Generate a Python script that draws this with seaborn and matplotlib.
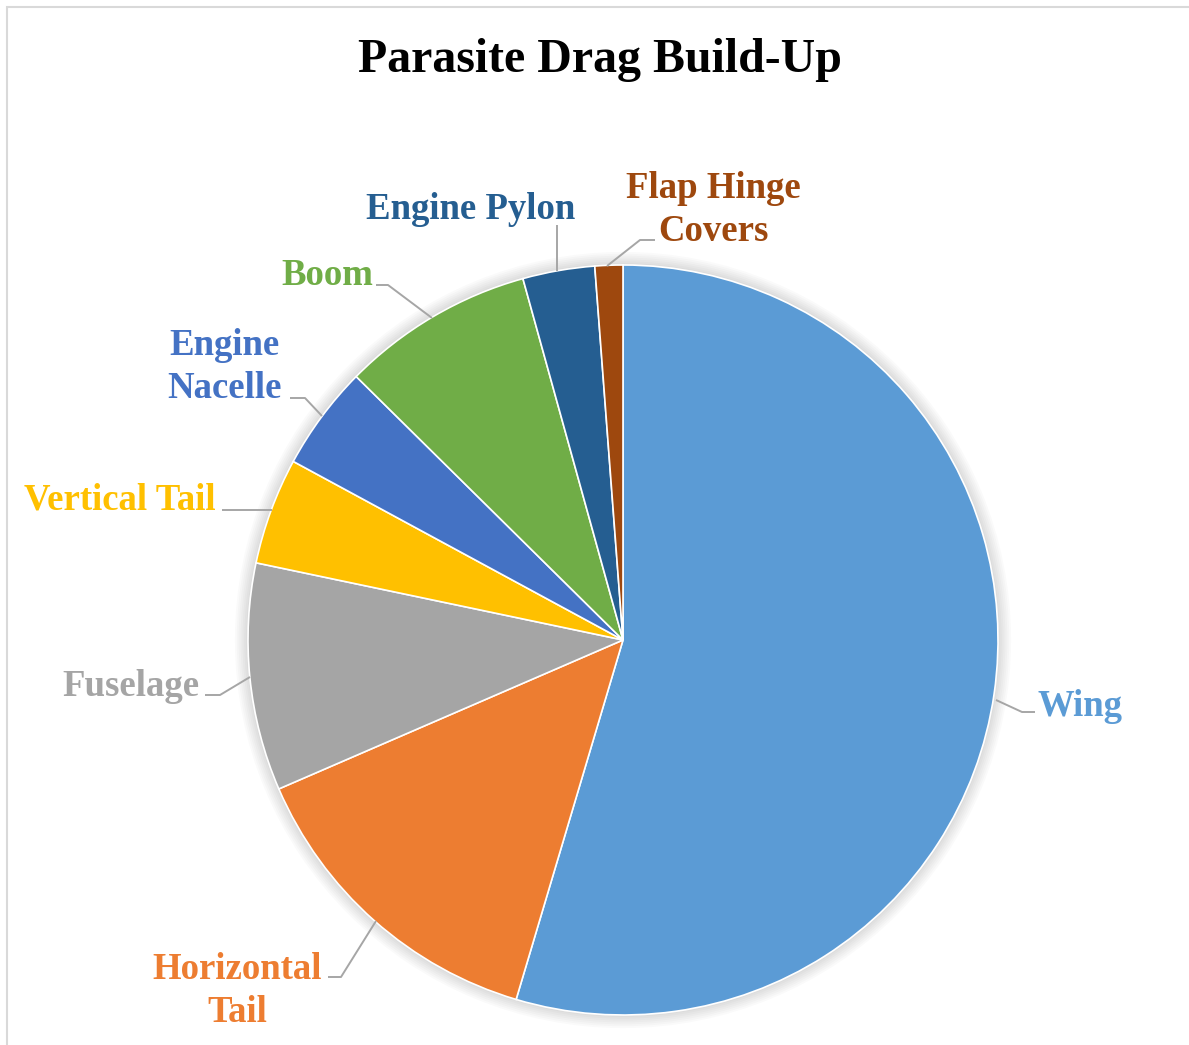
import matplotlib
matplotlib.use("Agg")
import matplotlib.pyplot as plt
from matplotlib.patches import Circle, Rectangle
import numpy as np
import seaborn as sns

# Parasite drag contributions (percent of total), clockwise from 12 o'clock
components = ["Wing", "Horizontal\nTail", "Fuselage", "Vertical Tail",
              "Engine\nNacelle", "Boom", "Engine Pylon", "Flap Hinge\nCovers"]
drag_share = [54.6, 13.9, 9.8, 4.6, 4.5, 8.3, 3.1, 1.2]
slice_colors = ["#5B9BD5", "#ED7D31", "#A5A5A5", "#FFC000",
                "#4472C4", "#70AD47", "#255E91", "#9E480E"]
chart_title = "Parasite Drag Build-Up"

sns.set_theme(style="white")
plt.rcParams["font.family"] = ["Liberation Serif", "DejaVu Serif"]
palette = sns.color_palette(slice_colors)

W, H = 1189, 1045
CX, CY, R = 623, 640, 375  # pie centre and radius in pixels

fig = plt.figure(figsize=(W / 100, H / 100), dpi=100)
ax = fig.add_axes([0, 0, 1, 1])


def px(x, y):
    """Pixel position -> data coordinates."""
    return (x - CX) / R, (CY - y) / R


# chart-area frame
fig.patches.append(Rectangle((7 / W, -0.05), 1.05, 1 - 7 / H + 0.05,
                             transform=fig.transFigure, fill=False,
                             edgecolor="#D9D9D9", linewidth=1.5, zorder=0))

wedges, _ = ax.pie(drag_share, colors=palette, startangle=90, counterclock=False,
                   radius=1.0, center=(0, 0),
                   wedgeprops=dict(edgecolor="white", linewidth=1.2))
for w in wedges:
    w.set_zorder(2)

# soft glow behind the pie
for r in np.linspace(1.035, 1.0, 8):
    ax.add_patch(Circle((0, 0), r, facecolor="#000000", alpha=0.018,
                        edgecolor="none", zorder=1))

ax.set_xlim(-CX / R, (W - CX) / R)
ax.set_ylim((CY - H) / R, CY / R)
ax.set_aspect("equal")
ax.axis("off")

# label text anchors and leader-line paths (pixels)
label_layout = [
    dict(xy=(1038, 706), ha="left", line=[(996, 700), (1022, 712), (1035, 712)]),
    dict(xy=(237, 991), ha="center", line=[(376, 921), (341, 977), (328, 977)]),
    dict(xy=(131, 687), ha="center", line=[(250, 677), (220, 695), (205, 695)]),
    dict(xy=(120, 500), ha="center", line=[(272, 510), (222, 510)]),
    dict(xy=(224, 367), ha="center", line=[(322, 416), (305, 398), (290, 398)]),
    dict(xy=(327, 275), ha="center", line=[(432, 318), (388, 285), (376, 285)]),
    dict(xy=(471, 209), ha="center", line=[(557, 271), (557, 225)]),
    dict(xy=(713, 210), ha="center", line=[(607, 266), (640, 240), (655, 240)]),
]

for name, color, lay in zip(components, palette, label_layout):
    pts = np.array([px(*p) for p in lay["line"]])
    ax.plot(pts[:, 0], pts[:, 1], color="#A6A6A6", linewidth=1.4,
            zorder=3, solid_capstyle="butt")
    ax.text(*px(*lay["xy"]), name, ha=lay["ha"], va="center", color=color,
            fontsize=26.5, fontweight="bold", linespacing=1.3, zorder=4)

fig.text(600 / W, 1 - 60 / H, chart_title, ha="center", va="center",
         fontsize=34.5, fontweight="bold", color="black")

fig.savefig("out.png", dpi=100, facecolor="white")
